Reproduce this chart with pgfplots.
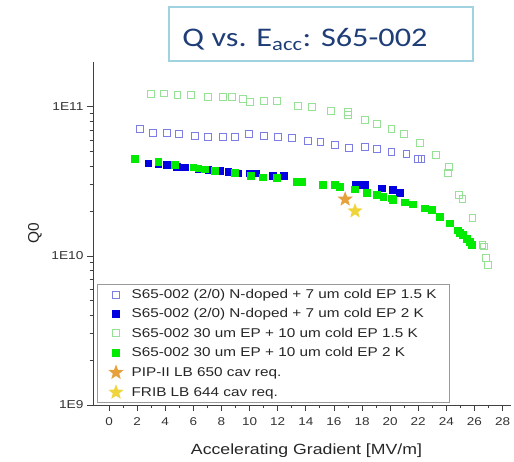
\documentclass[border=0pt]{standalone}
\usepackage{pgfplots}
\pgfplotsset{compat=1.18}
\usepackage{fontspec}
\setmainfont[FakeStretch=1.2]{Liberation Sans}
\newfontfamily\plainsans{Liberation Sans}
\newfontfamily\titlefont[FakeStretch=1.2]{Carlito}
\definecolor{bopen}{RGB}{125,125,230}
\definecolor{bfill}{RGB}{0,0,225}
\definecolor{gopen}{RGB}{150,225,150}
\definecolor{gfill}{RGB}{0,235,0}
\definecolor{ostar}{RGB}{230,160,60}
\definecolor{ystar}{RGB}{240,212,60}
\definecolor{titleblue}{RGB}{31,62,120}
\definecolor{titlebox}{RGB}{160,210,225}
\pgfdeclareplotmark{fstar}{%
  \pgfpathmoveto{\pgfpointpolar{90}{\pgfplotmarksize}}%
  \pgfpathlineto{\pgfpointpolar{126}{0.42\pgfplotmarksize}}%
  \pgfpathlineto{\pgfpointpolar{162}{\pgfplotmarksize}}%
  \pgfpathlineto{\pgfpointpolar{198}{0.42\pgfplotmarksize}}%
  \pgfpathlineto{\pgfpointpolar{234}{\pgfplotmarksize}}%
  \pgfpathlineto{\pgfpointpolar{270}{0.42\pgfplotmarksize}}%
  \pgfpathlineto{\pgfpointpolar{306}{\pgfplotmarksize}}%
  \pgfpathlineto{\pgfpointpolar{342}{0.42\pgfplotmarksize}}%
  \pgfpathlineto{\pgfpointpolar{18}{\pgfplotmarksize}}%
  \pgfpathlineto{\pgfpointpolar{54}{0.42\pgfplotmarksize}}%
  \pgfpathclose
  \pgfusepathqfill}
\begin{document}
\begin{tikzpicture}
\useasboundingbox (0,0) rectangle (514bp,462bp);
\begin{axis}[
  scale only axis,
  width=418bp, height=343bp,
  anchor=south west, at={(93bp,57bp)},
  ymode=log,
  xmin=-1.14, xmax=28.6,
  ymin=1e9, ymax=2e11,
  axis lines=left,
  axis line style={-, line width=0.8bp, black!75},
  tick style={line width=0.8bp, black!75},
  tick align=outside,
  major tick length=6bp, minor tick length=3.5bp,
  xtick={0,2,...,28}, minor x tick num=1,
  ytick={1e9,1e10,1e11}, yticklabels={1E9,1E10,1E11},
  /pgf/number format/assume math mode=true,
  xticklabel style={font=\fontsize{11.3}{13}\selectfont, color=black!80, yshift=-3bp},
  yticklabel style={font=\fontsize{11.5}{13}\selectfont, color=black!80},
  xlabel={Accelerating Gradient [MV/m]},
  ylabel={\plainsans Q0},
  xlabel style={font=\fontsize{14.8}{17}\selectfont, color=black!85,
    at={(axis description cs:0.5,0)}, anchor=center, yshift=-46bp, xshift=4.5bp},
  ylabel style={font=\fontsize{15.5}{18}\selectfont, color=black!85,
    at={(axis description cs:-0.139,0.5)}, anchor=center},
  legend cell align=left,
  legend style={at={(0.0096,0.006)}, anchor=south west,
    font=\fontsize{12.8}{15}\selectfont, draw=black!40, line width=0.8bp,
    row sep=4.6bp, inner xsep=11bp, inner ysep=3bp, text=black!85,
    /tikz/every odd column/.append style={column sep=6bp}},
]
\addplot[only marks, mark=square, mark size=3.4bp, mark options={draw=bopen, line width=0.8bp}] coordinates {
(2.20,7.11e10) (3.15,6.72e10) (4.10,6.67e10) (4.98,6.59e10) (6.11,6.39e10) (7.06,6.26e10)
(8.08,6.31e10) (8.96,6.26e10) (9.97,6.59e10) (11.04,6.42e10) (12.03,6.31e10) (13.03,6.16e10)
(14.17,5.92e10) (15.04,5.85e10) (16.06,5.56e10) (17.06,5.33e10) (18.19,5.41e10) (19.07,5.20e10)
(20.09,5.01e10) (21.16,4.82e10) (21.98,4.46e10) (22.22,4.46e10)};
\addlegendentry{S65-002 (2/0) N-doped + 7 um cold EP 1.5 K}
\addplot[only marks, mark=square*, mark size=3.4bp, mark options={draw=bfill, fill=bfill}] coordinates {
(2.79,4.19e10) (3.50,4.14e10) (4.10,4.08e10) (4.81,3.97e10) (5.40,3.94e10) (6.35,3.82e10)
(7.06,3.78e10) (7.89,3.72e10) (8.48,3.66e10) (9.19,3.59e10) (10.02,3.59e10) (10.45,3.59e10)
(11.67,3.46e10) (12.44,3.44e10) (17.55,3.0e10) (17.84,3.0e10) (18.19,3.0e10) (19.38,2.85e10)
(20.21,2.77e10) (20.68,2.66e10)};
\addlegendentry{S65-002 (2/0) N-doped + 7 um cold EP 2 K}
\addplot[only marks, mark=square, mark size=3.4bp, mark options={draw=gopen, line width=0.8bp}] coordinates {
(2.96,1.22e11) (3.93,1.23e11) (4.86,1.21e11) (5.83,1.21e11) (7.06,1.17e11) (8.12,1.16e11)
(8.72,1.16e11) (9.50,1.13e11) (10.02,1.08e11) (11.04,1.09e11) (11.96,1.10e11) (13.45,1.02e11)
(14.41,0.995e11) (15.76,0.94e11) (17.01,0.92e11) (17.01,0.88e11) (18.20,0.82e11) (19.07,7.69e10)
(20.09,7.08e10) (20.99,6.56e10) (22.10,5.70e10) (23.24,4.76e10) (24.19,3.94e10) (24.12,3.59e10)
(24.87,2.57e10) (25.14,2.41e10) (25.85,1.79e10) (26.56,1.19e10) (26.65,1.16e10) (26.84,0.97e10)
(26.96,0.87e10)};
\addlegendentry{S65-002 30 um EP + 10 um cold EP 1.5 K}
\addplot[only marks, mark=square*, mark size=3.4bp, mark options={draw=gfill, fill=gfill}] coordinates {
(1.85,4.48e10) (3.50,4.30e10) (4.69,4.08e10) (5.99,3.94e10) (6.35,3.88e10) (6.82,3.82e10)
(7.53,3.72e10) (8.96,3.62e10) (10.07,3.44e10) (10.92,3.37e10) (11.92,3.36e10) (13.34,3.16e10)
(13.70,3.16e10) (15.23,3.0e10) (16.06,3.0e10) (16.42,2.92e10) (17.48,2.80e10) (18.31,2.66e10)
(19.03,2.57e10) (19.50,2.50e10) (20.09,2.44e10) (20.21,2.38e10) (21.04,2.29e10) (21.63,2.22e10)
(22.46,2.09e10) (22.94,2.04e10) (23.53,1.84e10) (24.24,1.66e10) (24.83,1.49e10) (24.95,1.44e10)
(25.18,1.38e10) (25.42,1.31e10) (25.66,1.25e10) (25.78,1.19e10)};
\addlegendentry{S65-002 30 um EP + 10 um cold EP 2 K}
\addplot[only marks, mark=fstar, mark size=8bp, mark options={fill=ostar}, color=ostar] coordinates {(16.8,2.4e10)};
\addlegendentry{PIP-II LB 650 cav req.}
\addplot[only marks, mark=fstar, mark size=8bp, mark options={fill=ystar}, color=ystar] coordinates {(17.5,2.0e10)};
\addlegendentry{FRIB LB 644 cav req.}
\end{axis}
\draw[titlebox, line width=1.2bp] (169bp,401bp) rectangle (473bp,455bp);
\node[inner sep=0pt, anchor=base] at (305bp,415bp)
  {\titlefont\fontsize{27}{30}\selectfont\color{titleblue}Q vs. E\textsubscript{acc}: S65-002};
\end{tikzpicture}
\end{document}
